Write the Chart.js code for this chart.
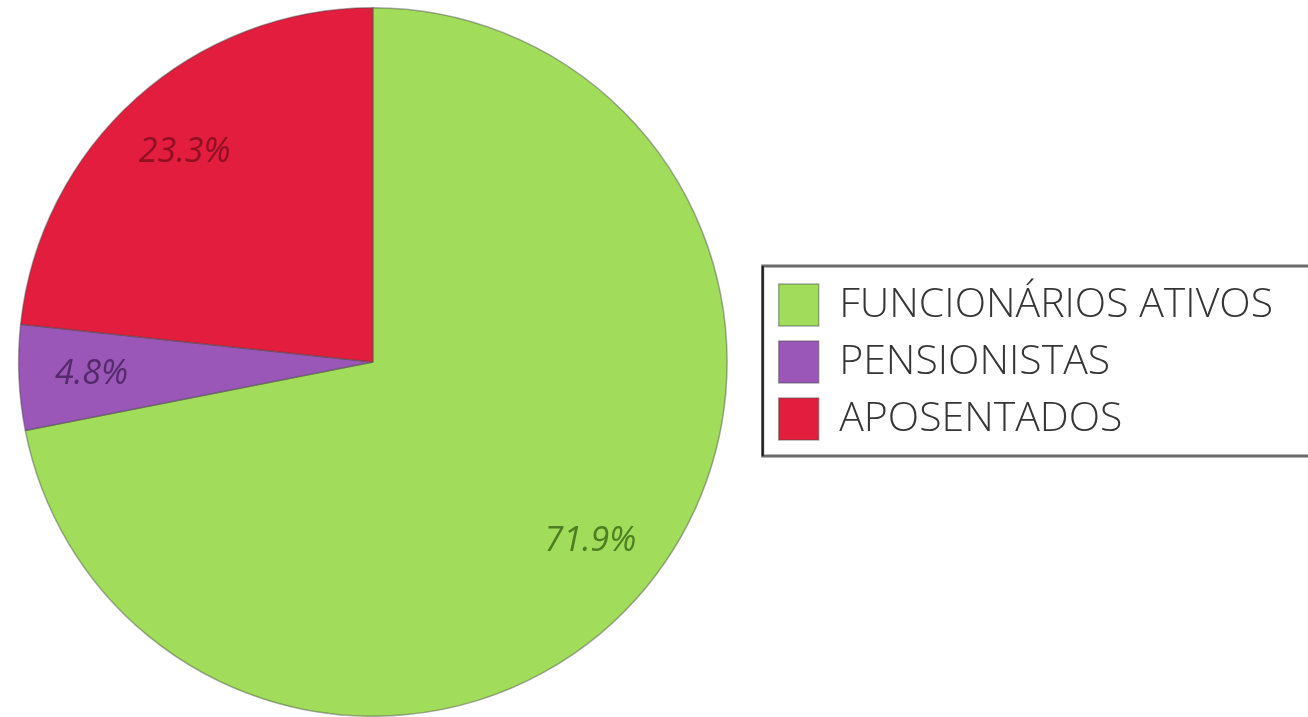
<!DOCTYPE html>
<html>
<head>
<meta charset="utf-8">
<script src="https://cdn.jsdelivr.net/npm/chart.js@4.4.1/dist/chart.umd.min.js"></script>
<style>
  html, body { margin: 0; padding: 0; background: #fff; overflow: hidden; }
  #wrap { width: 1326px; height: 717px; position: relative; margin-left: -18px; }
</style>
</head>
<body>
<div id="wrap"><canvas id="pieChart"></canvas></div>
<script>
const categories = ["FUNCIONÁRIOS ATIVOS", "PENSIONISTAS", "APOSENTADOS"];
const shares = [71.9, 4.8, 23.3];

const sliceColors = ["#a1dd5b", "#9b57b8", "#e31d3e"];
const labelColors = ["#4e7d22", "#552a6b", "#8f0f23"];

// percent labels drawn inside each slice
const sliceLabels = {
  id: "sliceLabels",
  afterDatasetsDraw(chart) {
    const ctx = chart.ctx;
    const meta = chart.getDatasetMeta(0);
    ctx.save();
    ctx.font = "italic 34px 'Open Sans'";
    ctx.textAlign = "center";
    ctx.textBaseline = "middle";
    meta.data.forEach((arc, i) => {
      const p = arc.getProps(["x", "y", "startAngle", "endAngle", "outerRadius"], true);
      const mid = (p.startAngle + p.endAngle) / 2;
      const r = p.outerRadius * 0.795;
      ctx.fillStyle = labelColors[i];
      ctx.fillText(shares[i].toFixed(1) + "%", p.x + Math.cos(mid) * r, p.y + Math.sin(mid) * r);
    });
    ctx.restore();
  }
};

// frame around the legend
const legendFrame = {
  id: "legendFrame",
  afterDraw(chart) {
    const lg = chart.legend;
    if (!lg || !lg.legendHitBoxes.length) return;
    const boxes = lg.legendHitBoxes;
    const ctx = chart.ctx;
    const left = boxes[0].left - 16;
    const top = boxes[0].top - 18;
    const bottom = boxes[boxes.length - 1].top + boxes[boxes.length - 1].height + 16;
    ctx.save();
    ctx.strokeStyle = "#6a6a6a";
    ctx.lineWidth = 3;
    ctx.strokeRect(left, top, chart.width + 20 - left, bottom - top);
    ctx.strokeStyle = "#1e1e1e";
    ctx.lineWidth = 2;
    ctx.beginPath();
    ctx.moveTo(left, top);
    ctx.lineTo(left, bottom);
    ctx.stroke();
    ctx.restore();
  }
};

const pieChart = new Chart(document.getElementById("pieChart"), {
  type: "pie",
  data: {
    labels: categories,
    datasets: [{
      data: shares,
      backgroundColor: sliceColors,
      borderColor: "rgba(70,70,70,0.45)",
      borderWidth: 1.5
    }]
  },
  options: {
    responsive: true,
    maintainAspectRatio: false,
    animation: false,
    layout: { padding: { top: 7, bottom: 0, left: 0, right: 25 } },
    plugins: {
      legend: {
        position: "right",
        labels: {
          boxWidth: 40,
          boxHeight: 42,
          padding: 15,
          color: "#353535",
          font: { family: "'Open Sans'", size: 41, weight: "300" }
        }
      },
      tooltip: { enabled: false }
    }
  },
  plugins: [sliceLabels, legendFrame]
});
</script>
</body>
</html>
